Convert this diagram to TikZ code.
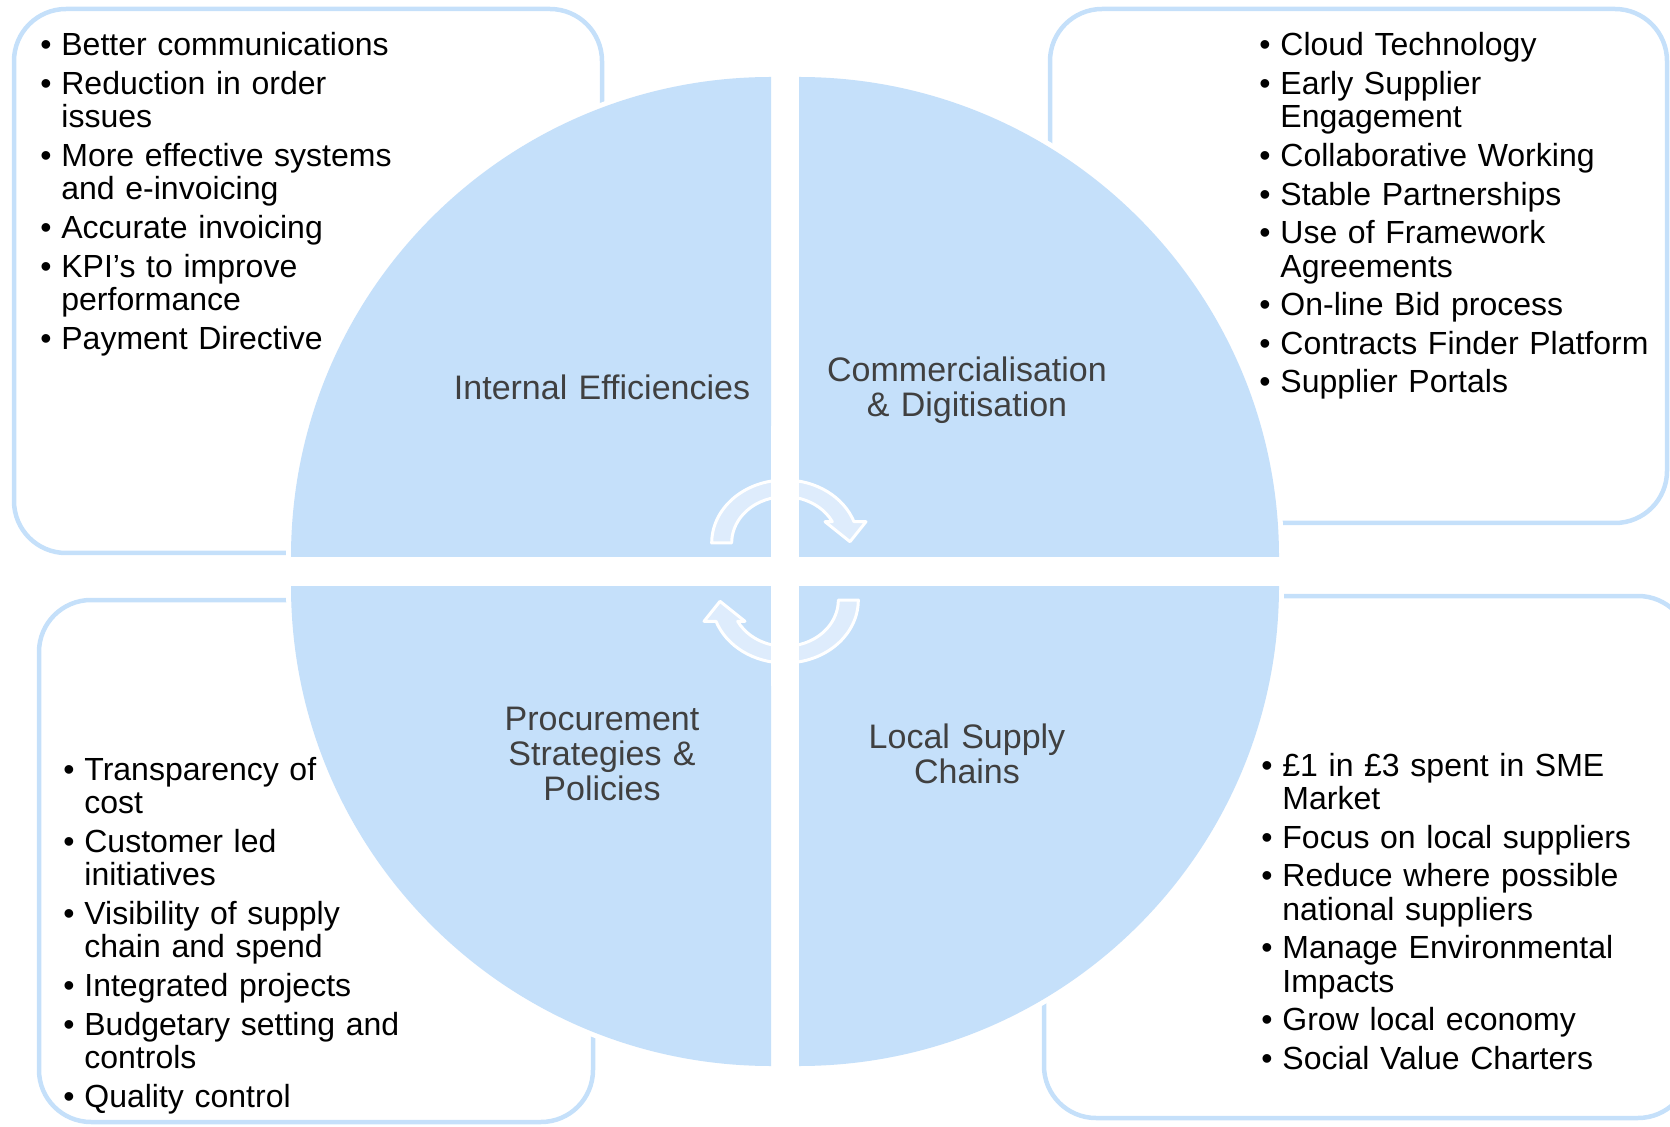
\documentclass[tikz,border=0pt]{standalone}
\usepackage{fontspec}
\setmainfont{Liberation Sans}

\definecolor{quadBlue}{RGB}{197,224,250}
\definecolor{arrowBlue}{RGB}{222,236,252}
\definecolor{labelGray}{RGB}{64,64,64}

% one bullet point, later lines hang under the text
\newcommand{\bitem}[1]{\hangindent=10.5pt\hangafter=1\makebox[10.5pt][l]{\textbullet}#1\par}

\begin{document}
\begin{tikzpicture}[
    x=0.5pt, y=0.5pt,
    quadrant/.style={fill=quadBlue, preaction={draw=white, line width=5pt}},
    boxline/.style={draw=quadBlue, line width=2.25pt, rounded corners=26pt},
    cyclearrow/.style={fill=arrowBlue, draw=white, line width=1.5pt, line join=round},
    listnode/.style={anchor=base west, inner sep=0pt, text width=200pt, align=left, font=\fontsize{16}{16.7}\selectfont},
    labelnode/.style={anchor=base, inner sep=0pt, text width=170pt, align=center, text=labelGray, font=\fontsize{17}{17.5}\selectfont},
]

    \useasboundingbox (0,0) rectangle (1670,1126);

    % rounded boxes behind the four lists
    \foreach \xa/\ya/\xb/\yb in {
    14/573/602/1117,
    1050/603/1667/1117,
    39/4/593/526,
    1044/8/1690/530}
    {
        \draw [boxline] (\xa,\ya) rectangle (\xb,\yb);
    }

    % the four quarter discs
    % cx, cy: corner of the quarter
    % sa:     start angle of its arc
    \def\quadR{480}
    \foreach \cx/\cy/\sa in {
    771/569/90,
    799/569/0,
    771/540/180,
    799/540/270}
    {
        \path [quadrant] (\cx,\cy) -- ++(\sa:\quadR) arc [start angle=\sa, delta angle=90, radius=\quadR] -- cycle;
    }

    % turning arrows in the middle (lower one is the upper one turned round)
    \foreach \rot in {0, 180}
    {
        \path [cyclearrow, rotate around={\rot:(785,554.5)}]
            (711.7,583) arc [start angle=180, end angle=19.76, x radius=73.3, y radius=63]
            -- (866,604.3) -- (850,584.3) -- (825,604.3) -- (832.3,604.3)
            arc [start angle=27.39, end angle=180, x radius=53.3, y radius=46.3] -- cycle;
    }

    % white gap between the quarters over the arrows
    \fill [white] (771,440) rectangle (799,700);

    % quarter titles
    \node [labelnode] (effLabel) at (602,726) {Internal Efficiencies};
    \node [labelnode] (comLabel) at (967,744) {Commercialisation\\ \& Digitisation};
    \node [labelnode] (proLabel) at (602,396) {Procurement\\ Strategies \&\\ Policies};
    \node [labelnode] (locLabel) at (967,378) {Local Supply\\ Chains};

    % top left list
    \node [listnode] (effList) at (40,1070) {\setlength{\parskip}{2.6pt}%
        \bitem{Better communications}
        \bitem{Reduction in order\newline issues}
        \bitem{More effective systems\newline and e-invoicing}
        \bitem{Accurate invoicing}
        \bitem{KPI’s to improve\newline performance}
        \bitem{Payment Directive}
    };

    % top right list
    \node [listnode] (comList) at (1259,1070) {\setlength{\parskip}{2.6pt}%
        \bitem{Cloud Technology}
        \bitem{Early Supplier\newline Engagement}
        \bitem{Collaborative Working}
        \bitem{Stable Partnerships}
        \bitem{Use of Framework\newline Agreements}
        \bitem{On-line Bid process}
        \bitem{Contracts Finder Platform}
        \bitem{Supplier Portals}
    };

    % bottom left list
    \node [listnode] (proList) at (63,345.6) {\setlength{\parskip}{2.6pt}%
        \bitem{Transparency of\newline cost}
        \bitem{Customer led\newline initiatives}
        \bitem{Visibility of supply\newline chain and spend}
        \bitem{Integrated projects}
        \bitem{Budgetary setting and\newline controls}
        \bitem{Quality control}
    };

    % bottom right list
    \node [listnode] (locList) at (1261,349.8) {\setlength{\parskip}{2.6pt}%
        \bitem{£1 in £3 spent in SME\newline Market}
        \bitem{Focus on local suppliers}
        \bitem{Reduce where possible\newline national suppliers}
        \bitem{Manage Environmental\newline Impacts}
        \bitem{Grow local economy}
        \bitem{Social Value Charters}
    };

\end{tikzpicture}
\end{document}
